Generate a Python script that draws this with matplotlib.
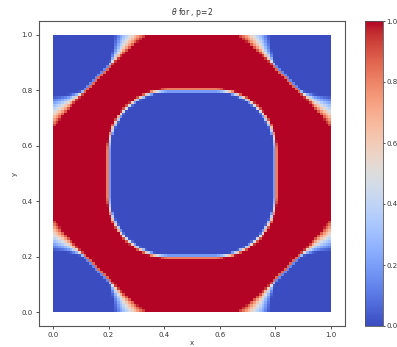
import numpy as np
import matplotlib
matplotlib.use("Agg")
import matplotlib.pyplot as plt

# grid of the theta field (cells over the unit square)
n_cells = 100

# inner blue rounded square
inner_center = [0.5, 0.5]
inner_half = 0.30
inner_corner_r = 0.22
inner_width = 0.016

# corner blue regions: theta = 0.5 where a+b = L (a, b = distance to the two walls)
corner_L_mid = 0.315     # along the diagonal
corner_L_wall = 0.28     # at the walls
corner_w_edge = 0.12     # width of the fade at the walls
corner_w_min = 0.014     # width of the fade away from the walls
corner_reach = 0.11      # how far from the wall the wide fade goes

cbar_ticks = [0.0, 0.2, 0.4, 0.6, 0.8, 1.0]
axis_ticks = [0.0, 0.2, 0.4, 0.6, 0.8, 1.0]

edges = np.linspace(0, 1, n_cells + 1)
c = 0.5 * (edges[1:] + edges[:-1])
X, Y = np.meshgrid(c, c)

# inner region
u = np.abs(X - inner_center[0]) - (inner_half - inner_corner_r)
v = np.abs(Y - inner_center[1]) - (inner_half - inner_corner_r)
sd = np.hypot(np.maximum(u, 0), np.maximum(v, 0)) + np.minimum(np.maximum(u, v), 0) - inner_corner_r
th_inner = np.clip(0.5 + sd / inner_width, 0, 1)

# corners
a = np.minimum(X, 1 - X)
b = np.minimum(Y, 1 - Y)
m = np.minimum(a, b)
t = np.clip(1 - m / corner_reach, 0, 1)
L = corner_L_mid + (corner_L_wall - corner_L_mid) * t
w = corner_w_min + (corner_w_edge - corner_w_min) * t ** 1.3
th_corner = np.clip(0.5 + (a + b - L) / w, 0, 1)

theta = th_inner * th_corner

fs = 5
txt = '#333333'
fig = plt.figure(figsize=(3.97, 3.47), dpi=100)
ax = fig.add_axes([39/397, 21/347, 306/397, 305/347])
cax = fig.add_axes([365/397, 21/347, 18/397, 305/347])

pc = ax.pcolormesh(edges, edges, theta, cmap='coolwarm', vmin=0, vmax=1)
ax.set_xlim(-0.05, 1.05)
ax.set_ylim(-0.05, 1.05)
ax.set_xticks(axis_ticks)
ax.set_yticks(axis_ticks)
ax.tick_params(labelsize=fs, length=2, width=0.6, pad=2.5, colors=txt)
for s in ax.spines.values():
    s.set_linewidth(0.8)
    s.set_color('#555555')
ax.set_title(r'$\theta$ for , p=2', fontsize=fs + 0.5, color=txt, pad=4)
ax.set_xlabel('x', fontsize=fs, color=txt, labelpad=1)
ax.set_ylabel('y', fontsize=fs, color=txt, labelpad=3)

cb = fig.colorbar(pc, cax=cax, ticks=cbar_ticks)
cb.ax.tick_params(labelsize=fs, length=1.5, width=0.6, pad=1, colors=txt)
cb.outline.set_linewidth(0.6)
cb.outline.set_edgecolor('#555555')

plt.savefig("out.png", dpi=100)
